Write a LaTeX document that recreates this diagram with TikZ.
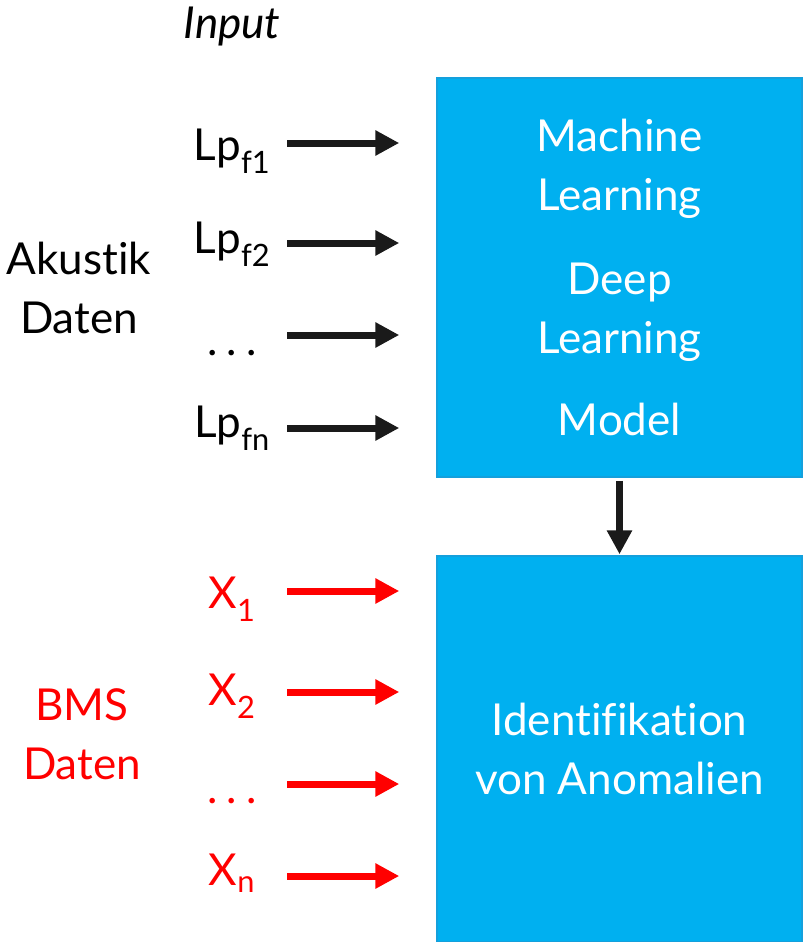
\documentclass[tikz,border=0pt]{standalone}
\usepackage{fontspec}
\setmainfont{Lato}[Ligatures=NoCommon]
\usepackage{tikz}
\usetikzlibrary{arrows.meta,positioning}
\definecolor{boxblue}{RGB}{0,176,240}
\definecolor{boxedge}{RGB}{20,160,220}
\definecolor{arrowblack}{RGB}{26,26,26}
\definecolor{bmsred}{RGB}{255,0,0}
\newcommand{\diafont}{\fontsize{44}{59}\selectfont}
\newcommand{\wdots}{.\hspace{9pt}.\hspace{9pt}.}

\tikzset{
  modelbox/.style={draw=boxedge, line width=1.5pt, fill=boxblue, text=white,
    minimum width=365pt, minimum height=399pt, align=center, font=\diafont, inner sep=0pt},
  inarr/.style={-{Triangle[length=24pt,width=24pt]}, line width=7pt},
  sig/.style={anchor=base, font=\diafont},
}

\begin{document}
\begin{tikzpicture}[x=1pt,y=-1pt]
  \useasboundingbox (0,0) rectangle (804,942);

  % Boxes
  \node[modelbox] (ml) at (619.5,277.5) {Machine\\Learning\\[25pt]Deep\\Learning\\[23pt]Model};
  \node[modelbox, minimum height=386pt] (ano) at (619.5,749) {Identifikation\\von Anomalien};

  % Input heading
  \node[sig, font=\diafont\itshape] (inp) at (232,39) {Input};

  % Acoustic inputs (black)
  \node[sig, align=center] (aku) at (79,333) {Akustik\\Daten};
  \node[sig] (lp1) at (232,160) {Lp\textsubscript{f1}};
  \node[sig] (lp2) at (232,253) {Lp\textsubscript{f2}};
  \node[sig] (lp3) at (232,355) {\wdots};
  \node[sig] (lp4) at (232,437) {Lp\textsubscript{fn}};
  \foreach \y [count=\i] in {143,243,335,428} {
    \coordinate (ls\i) at (287,\y);
    \draw[inarr, arrowblack, shorten >=37pt] (ls\i) -- (ml.west |- ls\i);
  }

  % BMS inputs (red)
  \node[sig, align=center, text=bmsred] (bms) at (82,779) {BMS\\Daten};
  \node[sig, text=bmsred] (x1) at (232,608) {X\textsubscript{1}};
  \node[sig, text=bmsred] (x2) at (232,705) {X\textsubscript{2}};
  \node[sig, text=bmsred] (x3) at (232,803) {\wdots};
  \node[sig, text=bmsred] (x4) at (232,885) {X\textsubscript{n}};
  \foreach \y [count=\i] in {591,692,784,876} {
    \coordinate (bs\i) at (287,\y);
    \draw[inarr, bmsred, shorten >=37pt] (bs\i) -- (ano.west |- bs\i);
  }

  % Model -> anomalies
  \draw[inarr, arrowblack, shorten <=3pt, shorten >=1pt] (ml.south) -- (ano.north);
\end{tikzpicture}
\end{document}
